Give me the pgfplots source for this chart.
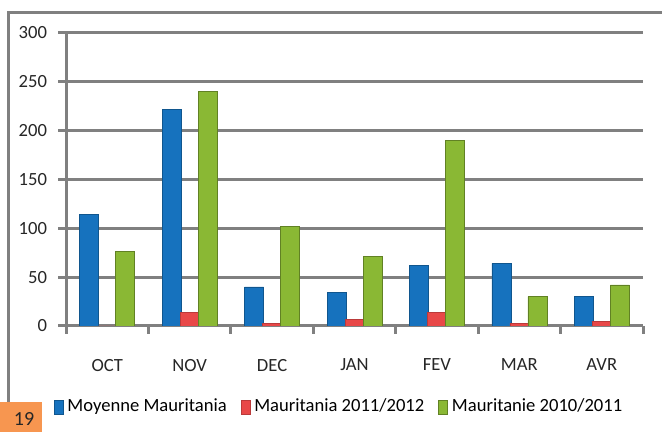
\documentclass[border=0pt]{standalone}
\usepackage{pgfplots}
\pgfplotsset{compat=1.18}
\usepackage{pgfplotstable}
\usepackage{fontspec}
\setmainfont{Carlito}

\definecolor{cblue}{RGB}{22,114,190}
\definecolor{cred}{RGB}{232,72,72}
\definecolor{cgreen}{RGB}{138,184,52}
\definecolor{cgrid}{RGB}{128,128,128}
\definecolor{corange}{RGB}{247,150,80}

% rainfall per month (mm)
\pgfplotstableread{
x moy r1112 r1011
0 114 0 76
1 222 14 240
2 40 3 102
3 34 7 71
4 62 14 190
5 64 3 30
6 30 5 42
}\data

\begin{document}
\begin{tikzpicture}
\path[use as bounding box] (0,0) rectangle (331pt,216pt);
% outer frame
\draw[cgrid, line width=1.5pt] (4.25pt,14.5pt) -- (4.25pt,209.5pt) -- (331pt,209.5pt);
\begin{axis}[
  at={(33pt,53pt)}, anchor=south west,
  scale only axis, width=288.5pt, height=146.5pt,
  xmin=-0.5, xmax=6.5, ymin=0, ymax=300,
  ybar=-0.5pt, bar width=9.5pt,
  axis x line*=bottom, axis y line*=left,
  axis line style={cgrid, line width=1.5pt, -},
  ymajorgrids, grid style={cgrid, line width=1.5pt},
  ytick={0,50,...,300},
  xtick={-0.5,0.5,...,6.5}, xticklabels={},
  extra x ticks={0,1,2,3,4,5,6},
  extra x tick labels={OCT,NOV,DEC,JAN,FEV,MAR,AVR},
  extra x tick style={major tick length=0pt, grid=none,
    xticklabel style={yshift=-13pt}},
  tick align=outside, major tick length=4pt,
  every tick/.style={cgrid, line width=1.5pt},
  /pgf/number format/assume math mode=true,
  ticklabel style={font=\fontsize{9.3}{11}\selectfont, text=black!85},
  yticklabel style={xshift=-2pt},
  legend style={at={(0.475,-0.276)}, anchor=center, legend columns=3,
    draw=none, fill=none, font=\fontsize{9.3}{11}\selectfont,
    /tikz/every even column/.append style={column sep=5pt}},
  legend image code/.code={\draw[#1] (0pt,-3.5pt) rectangle (4.5pt,3.5pt);},
]
\addplot[fill=cblue, draw=cblue!75!black, line width=0.3pt] table[x=x, y=moy] {\data};
\addplot[fill=cred, draw=cred!80!black, line width=0.3pt] table[x=x, y=r1112] {\data};
\addplot[fill=cgreen, draw=cgreen!70!black, line width=0.3pt] table[x=x, y=r1011] {\data};
\legend{Moyenne Mauritania, Mauritania 2011/2012, Mauritanie 2010/2011}
\end{axis}
% page tag
\fill[corange] (0,0) rectangle (21pt,15pt);
\node[font=\fontsize{10}{12}\selectfont, text=black!85] at (12pt,6.5pt) {19};
\end{tikzpicture}
\end{document}
